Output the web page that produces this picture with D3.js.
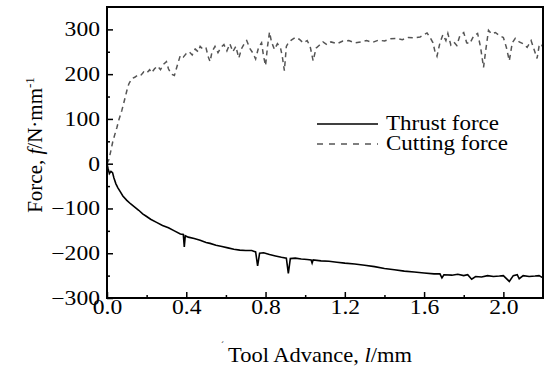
<!DOCTYPE html>
<html>
<head>
<meta charset="utf-8">
<script src="https://cdn.jsdelivr.net/npm/d3@7"></script>
<style>
  body { margin: 0; background: #fff; }
  text { font-family: "Liberation Serif", "Times New Roman", serif; fill: #000; }
</style>
</head>
<body>
<div id="chart"></div>
<script>
// tool advance (mm), force (N/mm)
const thrust = [
  [0.000, 0], [0.005, -10], [0.012, -22], [0.020, -17], [0.028, -20], [0.035, -32],
  [0.045, -45], [0.055, -54], [0.066, -62], [0.080, -72], [0.100, -82], [0.120, -90],
  [0.140, -97], [0.160, -104], [0.180, -112], [0.200, -118], [0.220, -124], [0.250, -131],
  [0.280, -138], [0.310, -143], [0.340, -150], [0.370, -157], [0.385, -158], [0.390, -186],
  [0.395, -161], [0.410, -164], [0.440, -167], [0.470, -171], [0.500, -176], [0.520, -178],
  [0.550, -182], [0.580, -185], [0.610, -188], [0.640, -191], [0.670, -193], [0.700, -194],
  [0.730, -194], [0.750, -197], [0.760, -228], [0.770, -200], [0.790, -199], [0.820, -203],
  [0.850, -206], [0.880, -209], [0.905, -211], [0.915, -245], [0.925, -212], [0.950, -211],
  [0.980, -213], [1.010, -214], [1.030, -215], [1.035, -222], [1.040, -215], [1.080, -217],
  [1.120, -218], [1.160, -220], [1.200, -222], [1.250, -224], [1.300, -227], [1.350, -230],
  [1.400, -234], [1.450, -237], [1.500, -240], [1.550, -242], [1.600, -244], [1.650, -246],
  [1.680, -246], [1.690, -255], [1.700, -248], [1.740, -249], [1.770, -247], [1.800, -250],
  [1.820, -248], [1.840, -258], [1.860, -252], [1.890, -253], [1.920, -250], [1.950, -252],
  [1.980, -251], [2.000, -250], [2.030, -263], [2.050, -250], [2.070, -248], [2.080, -257],
  [2.100, -250], [2.130, -252], [2.160, -251], [2.180, -250], [2.200, -255]
];

const cutting = [
  [0.000, 0], [0.010, 10], [0.020, 30], [0.030, 51], [0.040, 66], [0.050, 81],
  [0.060, 98], [0.075, 119], [0.090, 145], [0.100, 163], [0.110, 178], [0.125, 190],
  [0.140, 193], [0.155, 198], [0.170, 197], [0.185, 205], [0.200, 202], [0.215, 210],
  [0.225, 203], [0.240, 212], [0.255, 218], [0.270, 210], [0.285, 222], [0.300, 228],
  [0.310, 212], [0.325, 200], [0.340, 197], [0.355, 220], [0.370, 242], [0.385, 238],
  [0.400, 246], [0.415, 250], [0.430, 243], [0.445, 256], [0.460, 250], [0.470, 262],
  [0.485, 255], [0.500, 258], [0.510, 240], [0.520, 228], [0.530, 250], [0.545, 262],
  [0.560, 248], [0.575, 260], [0.590, 266], [0.605, 252], [0.620, 268], [0.635, 250],
  [0.650, 262], [0.665, 236], [0.680, 258], [0.695, 270], [0.705, 275], [0.720, 258],
  [0.735, 248], [0.750, 234], [0.765, 260], [0.780, 270], [0.790, 240], [0.800, 219],
  [0.810, 262], [0.820, 294], [0.830, 272], [0.845, 255], [0.860, 268], [0.875, 260],
  [0.885, 238], [0.895, 208], [0.905, 262], [0.915, 270], [0.930, 276], [0.950, 282],
  [0.970, 278], [0.990, 270], [1.010, 275], [1.025, 262], [1.040, 230], [1.055, 258],
  [1.070, 264], [1.090, 272], [1.110, 266], [1.130, 272], [1.160, 268], [1.190, 274],
  [1.220, 275], [1.250, 270], [1.280, 272], [1.310, 275], [1.340, 271], [1.370, 276],
  [1.400, 274], [1.430, 279], [1.460, 280], [1.490, 277], [1.520, 282], [1.550, 281],
  [1.580, 283], [1.600, 288], [1.615, 292], [1.630, 282], [1.645, 270], [1.655, 250],
  [1.665, 240], [1.680, 270], [1.695, 288], [1.710, 275], [1.720, 291], [1.735, 265],
  [1.750, 272], [1.765, 264], [1.780, 285], [1.800, 293], [1.815, 270], [1.830, 268],
  [1.850, 285], [1.870, 291], [1.885, 260], [1.900, 215], [1.910, 250], [1.925, 298],
  [1.940, 290], [1.960, 293], [1.980, 286], [2.000, 282], [2.015, 260], [2.030, 230],
  [2.045, 270], [2.060, 280], [2.080, 272], [2.100, 268], [2.120, 260], [2.140, 275],
  [2.155, 255], [2.170, 235], [2.180, 262], [2.190, 268], [2.200, 260]
];

const xTicks = [0, 0.4, 0.8, 1.2, 1.6, 2.0];
const xMinor = [0.2, 0.6, 1.0, 1.4, 1.8];
const yTicks = [-300, -200, -100, 0, 100, 200, 300];
const yMinor = [-250, -150, -50, 50, 150, 250];
const legendLabels = ["Thrust force", "Cutting force"];

// layout
const W = 546, H = 370;
const margin = { top: 7, right: 3, bottom: 72, left: 107 },
      width = W - margin.left - margin.right,
      height = H - margin.top - margin.bottom;

const svg = d3.select("#chart").append("svg")
    .attr("width", W)
    .attr("height", H);

const g = svg.append("g")
    .attr("transform", `translate(${margin.left},${margin.top})`);

const x = d3.scaleLinear().domain([0, 2.2]).range([0, width]);
const y = d3.scaleLinear().domain([-300, 350]).range([height, 0]);

// the original's lettering is a bit wider than Liberation Serif
function widen(sel, k) {
    sel.each(function() {
        const len = this.getComputedTextLength();
        d3.select(this).attr("textLength", len * k).attr("lengthAdjust", "spacingAndGlyphs");
    });
}

// minor ticks (inward)
g.append("g")
    .attr("transform", `translate(0,${height})`)
    .call(d3.axisBottom(x).tickValues(xMinor).tickSize(-3).tickFormat(""))
    .call(a => a.select(".domain").remove());
g.append("g")
    .call(d3.axisLeft(y).tickValues(yMinor).tickSize(-3).tickFormat(""))
    .call(a => a.select(".domain").remove());

// major ticks + labels
const xAxis = g.append("g")
    .attr("transform", `translate(0,${height})`)
    .call(d3.axisBottom(x).tickValues(xTicks).tickSize(-6).tickPadding(2).tickFormat(d3.format(".1f")));
xAxis.select(".domain").remove();
xAxis.selectAll("text").style("font-size", "20px").attr("fill", "#000");
widen(xAxis.selectAll("text"), 1.18);

const fmtY = d => d < 0 ? "\u2212" + Math.abs(d) : d;
const yAxis = g.append("g")
    .call(d3.axisLeft(y).tickValues(yTicks).tickSize(-6).tickPadding(7).tickFormat(fmtY));
yAxis.select(".domain").remove();
yAxis.selectAll("text").style("font-size", "20px").attr("fill", "#000");
widen(yAxis.selectAll("text"), 1.18);

g.selectAll(".tick line").attr("stroke", "#000").attr("stroke-width", 1.5);

// curves
const line = d3.line().x(d => x(d[0])).y(d => y(d[1]));

g.append("path")
    .datum(cutting)
    .attr("fill", "none")
    .attr("stroke", "#555")
    .attr("stroke-width", 1.5)
    .attr("stroke-dasharray", "5,4")
    .attr("d", line);

g.append("path")
    .datum(thrust)
    .attr("fill", "none")
    .attr("stroke", "#000")
    .attr("stroke-width", 1.6)
    .attr("d", line);

// frame
g.append("rect")
    .attr("width", width)
    .attr("height", height)
    .attr("fill", "none")
    .attr("stroke", "#000")
    .attr("stroke-width", 2);

// legend
const legend = g.append("g").attr("transform", "translate(210,117)");
legendLabels.forEach((name, i) => {
    legend.append("line")
        .attr("x1", 0).attr("x2", 61)
        .attr("y1", i * 20).attr("y2", i * 20)
        .attr("stroke", i === 0 ? "#000" : "#555")
        .attr("stroke-width", 1.6)
        .attr("stroke-dasharray", i === 0 ? null : "6,6");
    legend.append("text")
        .attr("x", 69)
        .attr("y", i * 20 + 6)
        .style("font-size", "20px")
        .text(name)
        .call(widen, 1.15);
});

// axis titles
const xt = svg.append("text")
    .attr("x", 320)
    .attr("y", 362)
    .attr("text-anchor", "middle")
    .style("font-size", "21px");
xt.append("tspan").text("Tool Advance, ");
xt.append("tspan").style("font-style", "italic").text("l");
xt.append("tspan").text("/mm");
widen(xt, 1.07);

svg.append("text")
    .attr("x", 221).attr("y", 348)
    .style("font-size", "9px")
    .text("\u02CA");

const yt = svg.append("text")
    .attr("transform", "translate(42,145) rotate(-90)")
    .attr("text-anchor", "middle")
    .style("font-size", "21px");
yt.append("tspan").text("Force, ");
yt.append("tspan").style("font-style", "italic").text("f");
yt.append("tspan").text("/N\u00B7mm");
yt.append("tspan").attr("dy", -8).style("font-size", "13px").text("-1");
</script>
</body>
</html>
